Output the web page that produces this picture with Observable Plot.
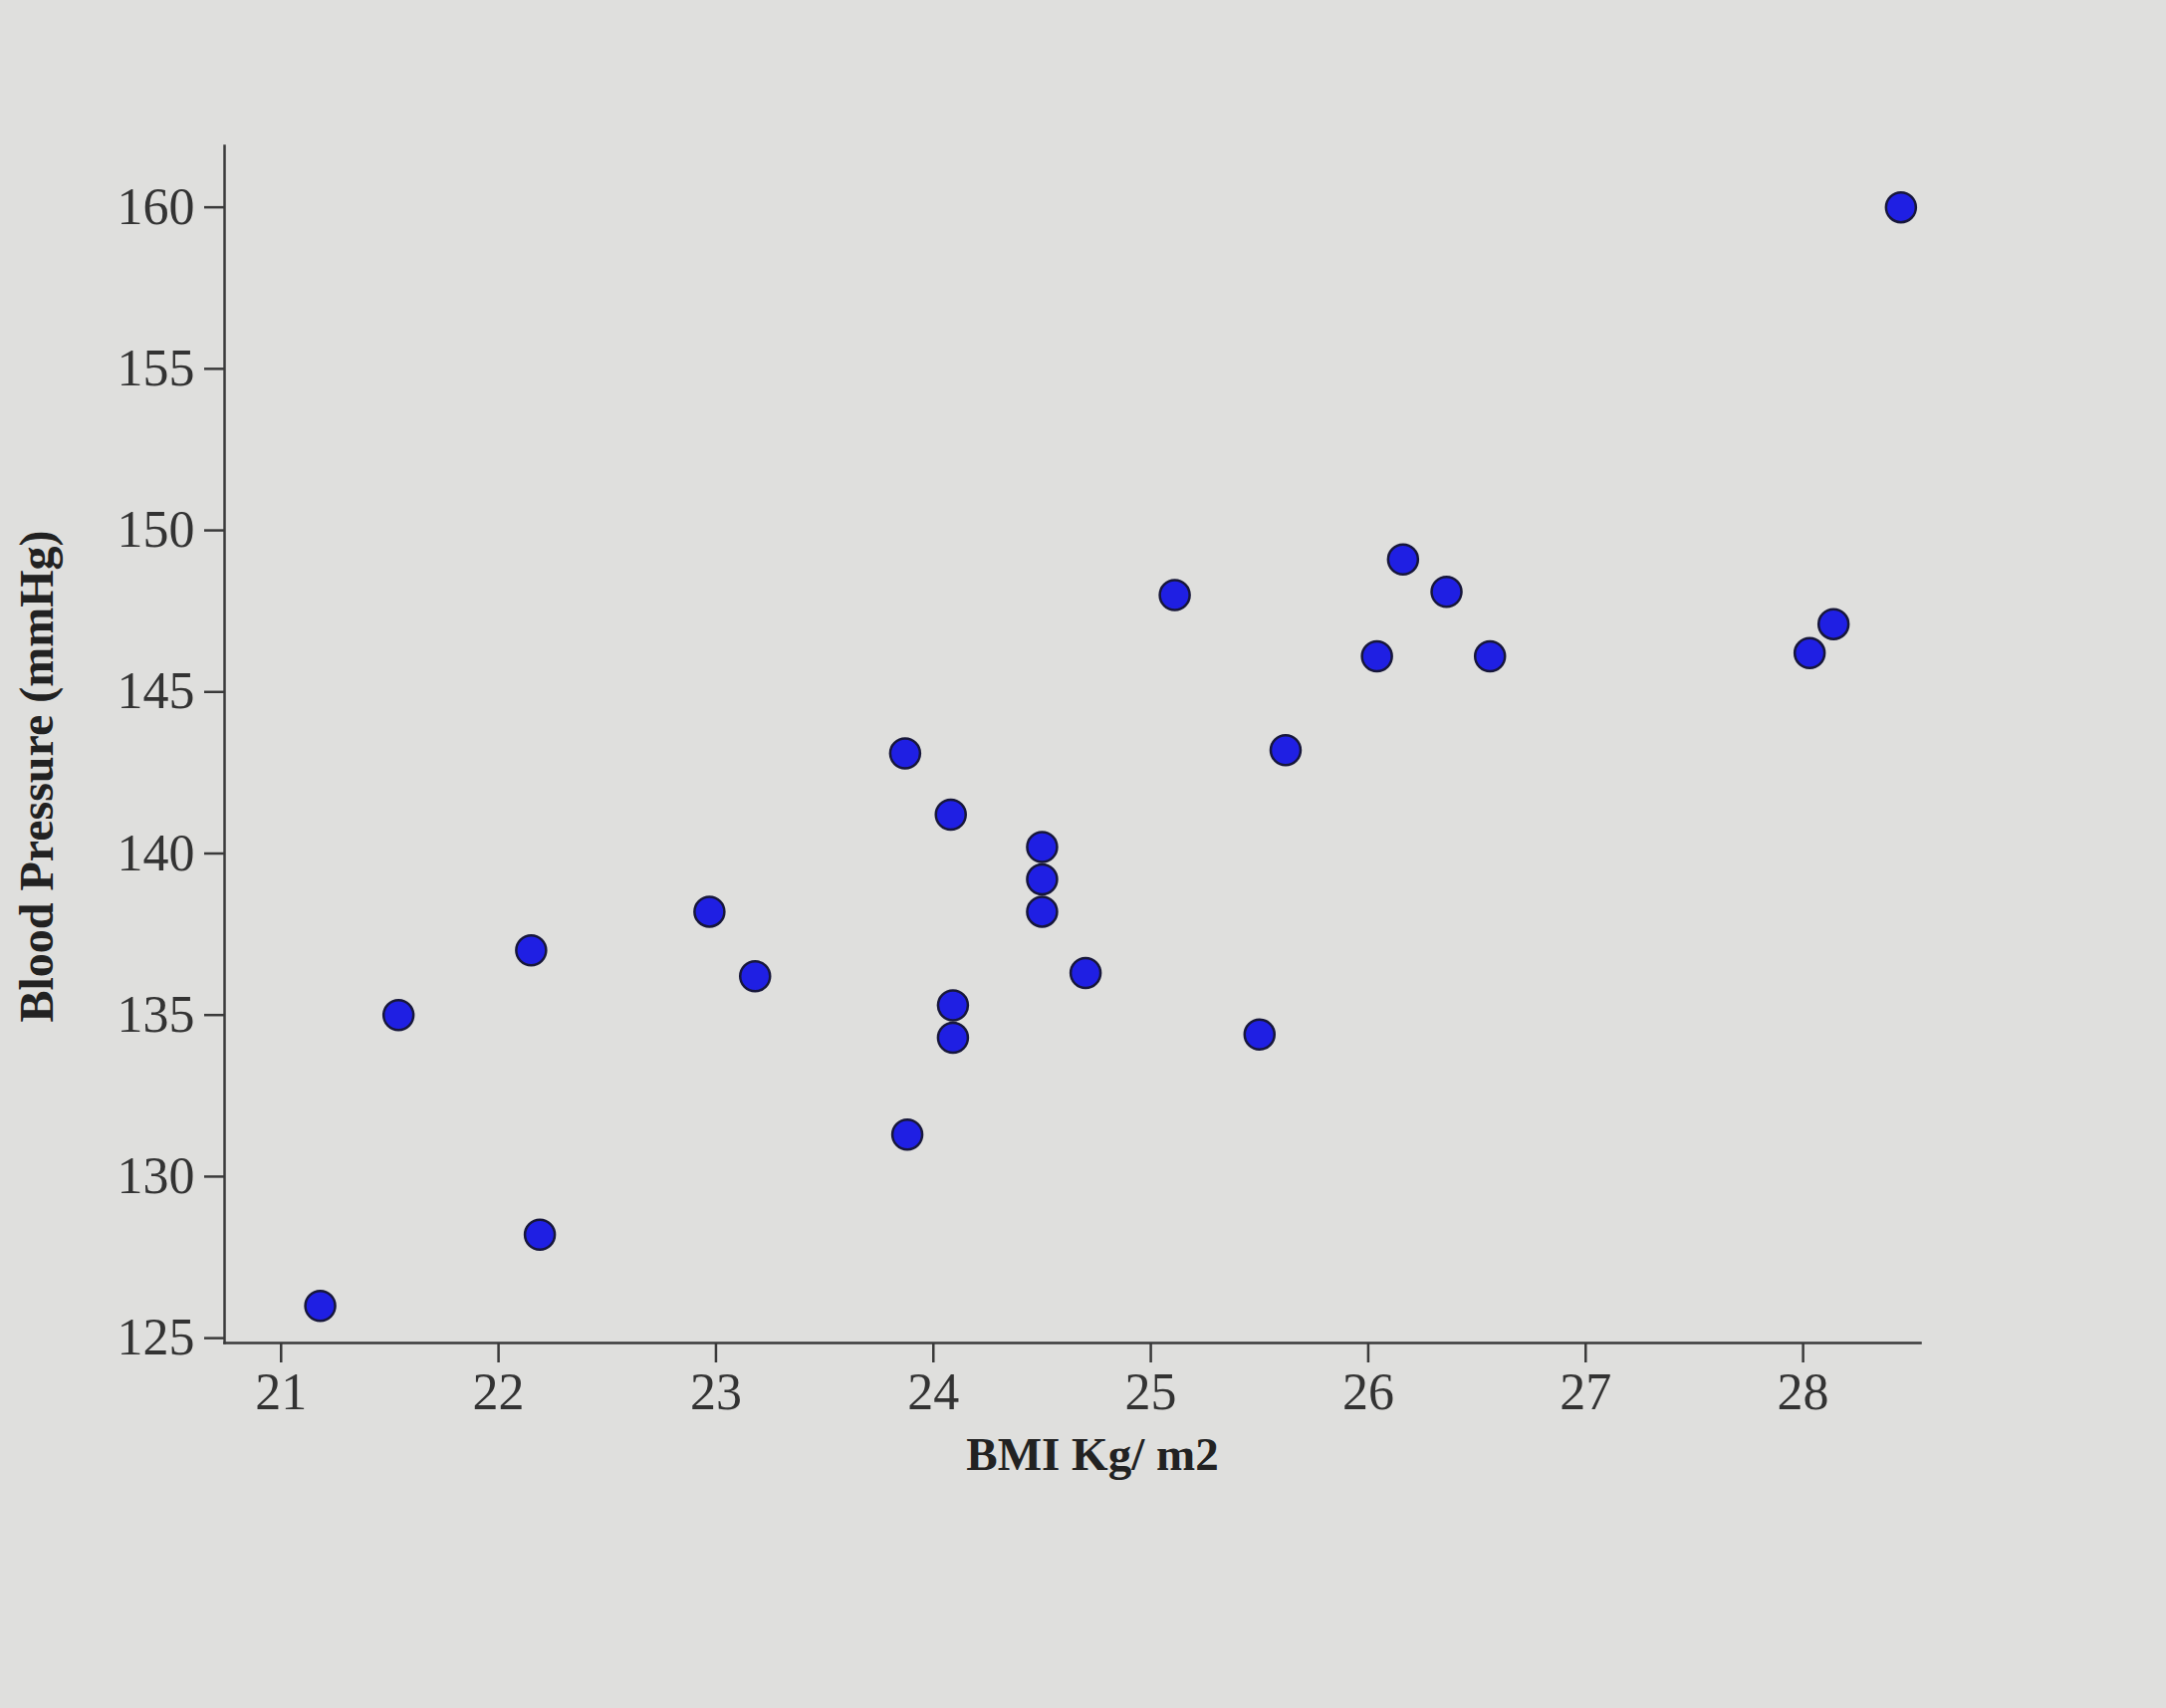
<!DOCTYPE html>
<html>
<head>
<meta charset="utf-8">
<script src="https://cdn.jsdelivr.net/npm/d3@7"></script>
<script src="https://cdn.jsdelivr.net/npm/@observablehq/plot@0.6"></script>
<style>
  html, body { margin: 0; padding: 0; background: #dfdfdd; }
</style>
</head>
<body>
<div id="chart"></div>
<script>
const bmi = [21.18, 21.54, 22.15, 22.19, 22.97, 23.18, 23.87, 23.88, 24.08, 24.09, 24.09, 24.5, 24.5, 24.5, 24.7, 25.11, 25.5, 25.62, 26.04, 26.16, 26.36, 26.56, 28.03, 28.14, 28.45];
const bp  = [126, 135, 137, 128.2, 138.2, 136.2, 143.1, 131.3, 141.2, 135.3, 134.3, 140.2, 139.2, 138.2, 136.3, 148, 134.4, 143.2, 146.1, 149.1, 148.1, 146.1, 146.2, 147.1, 160];
const xTicks = [21, 22, 23, 24, 25, 26, 27, 28];
const yTicks = [125, 130, 135, 140, 145, 150, 155, 160];
const xLabel = "BMI Kg/ m2";
const yLabel = "Blood Pressure (mmHg)";

const data = bmi.map((b, i) => ({bmi: b, bp: bp[i]}));
const font = "'Liberation Serif', 'DejaVu Serif', serif";

const chart = Plot.plot({
  width: 2175,
  height: 1715,
  marginLeft: 225,
  marginRight: 247,
  marginTop: 146,
  marginBottom: 367,
  x: {domain: [20.74, 28.54]},
  y: {domain: [124.85, 161.9]},
  style: {background: "#dfdfdd", fontFamily: font, color: "#333"},
  marks: [
    Plot.frame({anchor: "left", stroke: "#3a3a3a", strokeWidth: 2.5}),
    Plot.frame({anchor: "bottom", stroke: "#3a3a3a", strokeWidth: 2.5}),
    Plot.axisY({ticks: yTicks, tickSize: 20, tickPadding: 10, fontSize: 52, strokeWidth: 2.5, stroke: "#3a3a3a", label: null}),
    Plot.axisX({ticks: xTicks, tickSize: 20, tickPadding: 10, fontSize: 52, strokeWidth: 2.5, stroke: "#3a3a3a", label: null}),
    Plot.text([xLabel], {frameAnchor: "bottom", lineAnchor: "middle", textAnchor: "middle", dx: 20, dy: 112, fontSize: 47, fontWeight: "bold", fill: "#222"}),
    Plot.text([yLabel], {frameAnchor: "left", lineAnchor: "middle", textAnchor: "middle", rotate: -90, dx: -188, dy: 32, fontSize: 48, fontWeight: "bold", fill: "#222"}),
    Plot.dot(data, {x: "bmi", y: "bp", r: 15, fill: "#1f1fe3", stroke: "#17173a", strokeWidth: 2.5})
  ]
});
document.getElementById("chart").appendChild(chart);
</script>
</body>
</html>
